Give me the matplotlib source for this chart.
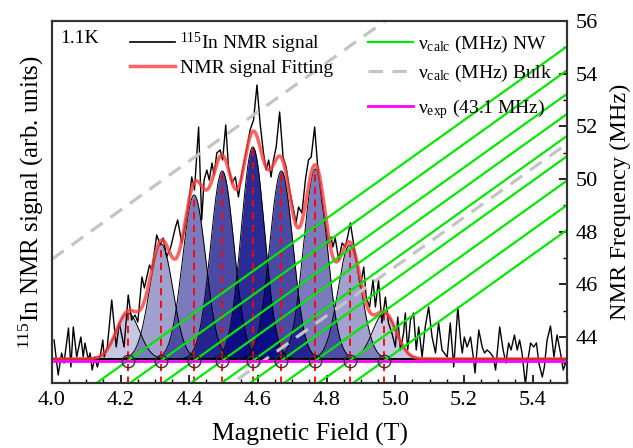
import numpy as np
import matplotlib
matplotlib.use('Agg')
import matplotlib.pyplot as plt

plt.rcParams['font.family'] = ['Liberation Serif', 'DejaVu Serif']
plt.rcParams['mathtext.fontset'] = 'custom'
plt.rcParams['mathtext.rm'] = 'Liberation Serif'
plt.rcParams['mathtext.it'] = 'Liberation Serif:italic'

# 115In NMR signal (field in T, amplitude arb. units)
campo = [4.006, 4.018, 4.028, 4.035, 4.048, 4.055, 4.062, 4.072, 4.084, 4.091,
         4.096, 4.106, 4.111, 4.117, 4.125, 4.132, 4.140, 4.148, 4.152, 4.161,
         4.174, 4.187, 4.196, 4.210, 4.222, 4.232, 4.242, 4.250, 4.262, 4.269,
         4.284, 4.291, 4.305, 4.315, 4.324, 4.334, 4.346, 4.359, 4.366, 4.378,
         4.388, 4.397, 4.407, 4.415, 4.427, 4.436, 4.443, 4.451, 4.458, 4.466,
         4.472, 4.480, 4.490, 4.497, 4.506, 4.514, 4.524, 4.534, 4.543, 4.553,
         4.568, 4.577, 4.587, 4.597, 4.606, 4.616, 4.624, 4.631, 4.638, 4.645,
         4.653, 4.663, 4.673, 4.682, 4.692, 4.702, 4.711, 4.718, 4.728, 4.738,
         4.747, 4.755, 4.765, 4.773, 4.786, 4.796, 4.806, 4.813, 4.818, 4.825,
         4.835, 4.845, 4.854, 4.861, 4.869, 4.878, 4.888, 4.898, 4.908, 4.915,
         4.925, 4.935, 4.942, 4.951, 4.961, 4.971, 4.980, 4.990, 5.000, 5.007,
         5.015, 5.024, 5.029, 5.036, 5.044, 5.053, 5.061, 5.068, 5.078, 5.087,
         5.097, 5.107, 5.117, 5.126, 5.136, 5.151, 5.160, 5.170, 5.182, 5.190,
         5.195, 5.201, 5.209, 5.219, 5.227, 5.232, 5.243, 5.253, 5.260, 5.267,
         5.277, 5.285, 5.292, 5.304, 5.314, 5.322, 5.330, 5.337, 5.347, 5.355,
         5.362, 5.369, 5.379, 5.386, 5.394, 5.403, 5.411, 5.418, 5.428, 5.434,
         5.442, 5.452, 5.462, 5.471, 5.481, 5.489, 5.499]
senal = [0.19, -0.16, 0.06, -0.04, 0.31, -0.08, 0.32, 0.02, 0.22, 0.02,
         0.16, -0.01, 0.06, -0.11, 0.02, -0.08, 0.02, 0.19, 0.02, 0.12,
         0.59, 0.12, 0.36, 0.12, 0.64, 0.39, 0.44, 0.37, 0.82, 0.71,
         0.94, 0.89, 1.24, 1.14, 1.21, 1.02, 1.12, 1.31, 1.39, 1.16,
         1.34, 1.52, 1.82, 1.69, 2.32, 1.39, 1.79, 1.89, 1.79, 1.96,
         1.84, 2.06, 2.09, 1.99, 2.34, 1.92, 1.76, 1.82, 1.62, 1.86,
         2.12, 2.29, 2.39, 2.74, 2.36, 2.06, 1.89, 1.99, 1.82, 1.99,
         2.12, 2.47, 2.02, 1.92, 1.69, 1.52, 1.36, 1.52, 1.46, 1.79,
         1.99, 2.02, 2.32, 1.96, 1.59, 1.36, 1.16, 1.22, 1.12, 1.21,
         0.99, 1.16, 1.12, 1.22, 1.36, 1.16, 0.96, 0.72, 0.92, 0.62,
         0.52, 0.79, 0.52, 0.79, 0.36, 0.62, 0.36, 0.26, 0.12, 0.42,
         0.09, 0.26, 0.46, 0.09, 0.39, 0.46, 0.09, 0.32, 0.02, 0.32,
         0.52, 0.22, 0.06, 0.36, 0.09, 0.02, 0.36, -0.08, 0.52, 0.19,
         0.06, 0.22, 0.12, 0.22, 0.02, -0.14, 0.29, 0.12, 0.06, 0.09,
         0.06, 0.02, -0.11, 0.32, 0.09, -0.04, 0.16, 0.09, 0.24, 0.09,
         0.19, 0.06, -0.26, -0.01, 0.16, 0.12, 0.16, -0.04, -0.18, -0.08,
         0.19, 0.33, 0.02, 0.24, 0.06, -0.11, -0.01]

# Gaussian components of the fit
centros = [4.221, 4.318, 4.414, 4.496, 4.585, 4.668, 4.767, 4.867, 4.968]
alturas = [0.46, 1.15, 1.64, 1.88, 2.12, 1.88, 1.90, 1.14, 0.46]
alfas = [0.22, 0.37, 0.52, 0.71, 0.83, 0.71, 0.52, 0.37, 0.22]
sigma = 0.034

# frequency lines
gamma = 9.3295        # MHz/T, 115In
f_exp = 43.1          # MHz
campo_bulk = [3.587, 4.617]

fig = plt.figure(figsize=(6.33, 4.48), dpi=100)
ax = fig.add_axes([52/633, 1-383/448, 515/633, 362/448])

xx = np.linspace(4.0, 5.5, 1501)
total = np.zeros_like(xx)
for c, h, a in zip(centros, alturas, alfas):
    g = h*np.exp(-(xx-c)**2/(2*sigma**2))
    total += g
    ax.fill_between(xx, 0, g, color='#000080', alpha=a, lw=0, zorder=1)
    ax.plot(xx, g, color='black', lw=0.7, zorder=2)

ax.vlines(centros, -0.5, alturas, colors='red', linestyles=(0, (4, 3)), lw=1.3, zorder=3)
ax.plot(campo, senal, color='black', lw=1.0, zorder=4)
ax.plot(xx, total, color='#ff3b3b', lw=2.5, alpha=0.8, zorder=5)

ax.set_xlim(4.0, 5.5)
ax.set_ylim(-0.24, 3.38)
ax.set_yticks([])
ax.set_xticks(np.arange(4.0, 5.51, 0.2))
ax.set_xticks(np.arange(4.0, 5.51, 0.05), minor=True)
ax.set_xticklabels(['%.1f' % v for v in np.arange(4.0, 5.51, 0.2)])
ax.tick_params(axis='x', which='major', direction='in', length=6, width=1.2, labelsize=16, pad=6)
ax.tick_params(axis='x', which='minor', direction='in', length=3, width=1.0)
ax.set_xlabel('Magnetic Field (T)', fontsize=18.5, labelpad=9)
ax.set_ylabel('$^{115}$In NMR signal (arb. units)', fontsize=18, labelpad=4)

ax2 = ax.twinx()
for c in centros:
    ax2.plot(xx, f_exp + gamma*(xx-c), color='#00e600', lw=1.6)
for hb in campo_bulk:
    ax2.plot(xx, f_exp + gamma*(xx-hb), color='#c4c4c4', lw=2.3, ls=(0, (4.5, 3)))
ax2.axhline(f_exp, color='#ff00ff', lw=2)
ax2.plot(centros, [f_exp]*len(centros), 'o', mfc='none', mec='#333333', ms=9, mew=1.0)
ax2.set_ylim(42.25, 56)
ax2.set_yticks(np.arange(44, 56.1, 2))
ax2.set_yticks(np.arange(43, 56.1, 1), minor=True)
ax2.tick_params(axis='y', which='major', direction='in', length=6, width=1.2, labelsize=16, pad=6)
ax2.tick_params(axis='y', which='minor', direction='in', length=3, width=1.0)
ax2.set_ylabel('NMR Frequency (MHz)', fontsize=17.5, labelpad=9)

for a_ in (ax, ax2):
    for s in a_.spines.values():
        s.set_linewidth(1.5)
        s.set_color('#333333')

# legend entries (axes fraction coordinates)
def entrada(x0, y, texto, **estilo):
    ax2.plot([x0, x0 + 0.087], [y, y], transform=ax2.transAxes, clip_on=False, **estilo)
    ax2.text(x0 + 0.0965, y - 0.019, texto, transform=ax2.transAxes,
             fontsize=14, ha='left', va='baseline')

entrada(0.1515, 0.942, '$^{115}$In NMR signal', color='black', lw=1.2)
entrada(0.1515, 0.876, 'NMR signal Fitting', color='#ff3b3b', lw=2.5, alpha=0.8)
entrada(0.6136, 0.942, r'ν$_{\mathrm{calc}}$ (MHz) NW', color='#00e600', lw=1.6)
entrada(0.6136, 0.861, r'ν$_{\mathrm{calc}}$ (MHz) Bulk', color='#c4c4c4', lw=2.3, ls=(0, (4.5, 3)))
entrada(0.6136, 0.764, r'ν$_{\mathrm{exp}}$ (43.1 MHz)', color='#ff00ff', lw=2)

ax.text(0.016, 0.939, '1.1K', transform=ax.transAxes, fontsize=14, va='baseline', ha='left')

fig.savefig('out.png', dpi=100)
